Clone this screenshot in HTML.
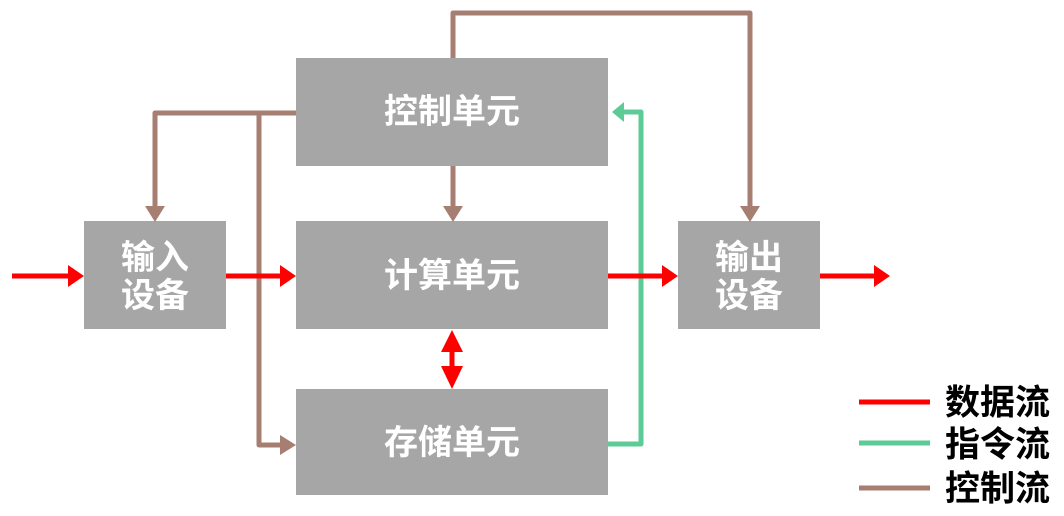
<!DOCTYPE html>
<html><head><meta charset="utf-8"><style>
html,body{margin:0;padding:0;background:#fff;}
svg{display:block;}
text{font-family:"Liberation Sans","Noto Sans CJK SC",sans-serif;font-weight:bold;}
</style></head><body>
<svg width="1064" height="516" viewBox="0 0 1064 516" xmlns="http://www.w3.org/2000/svg">
<g fill="#a6a6a6">
<rect x="296" y="58" width="312" height="108"/>
<rect x="296" y="221" width="312" height="108"/>
<rect x="296" y="389" width="312" height="106"/>
<rect x="84" y="221" width="142" height="108"/>
<rect x="678" y="221" width="142" height="108"/>
</g>
<g fill="#fff" font-size="34" text-anchor="middle" dominant-baseline="central">
<text x="452" y="112">控制单元</text>
<text x="452" y="276">计算单元</text>
<text x="452" y="443">存储单元</text>
<text x="155" y="258">输入</text>
<text x="155" y="296">设备</text>
<text x="749" y="258">输出</text>
<text x="749" y="296">设备</text>
</g>
<g stroke="#a67f72" stroke-width="5" fill="none" stroke-linejoin="round">
<polyline points="296,113 155,113 155,208"/>
<polyline points="259,113 259,445 282,445"/>
<polyline points="453,58 453,13 750,13 750,208"/>
<line x1="453" y1="166" x2="453" y2="208"/>
</g>
<g fill="#a67f72">
<polygon points="145,206 165,206 155,222"/>
<polygon points="443,206 463,206 453,222"/>
<polygon points="740,206 760,206 750,222"/>
<polygon points="280,435 280,455 296,445"/>
</g>
<polyline points="608,444 641,444 641,112 622,112" stroke="#5ccb96" stroke-width="5" fill="none" stroke-linejoin="round"/>
<polygon points="624,102 624,122 612,112" fill="#5ccb96"/>
<g stroke="#ff0000" stroke-width="5">
<line x1="12" y1="276" x2="70" y2="276"/>
<line x1="226" y1="276" x2="282" y2="276"/>
<line x1="608" y1="276" x2="664" y2="276"/>
<line x1="820" y1="276" x2="876" y2="276"/>
<line x1="452" y1="345" x2="452" y2="375"/>
</g>
<g fill="#ff0000">
<polygon points="68,265 68,287 84,276"/>
<polygon points="280,265 280,287 296,276"/>
<polygon points="662,265 662,287 678,276"/>
<polygon points="874,265 874,287 890,276"/>
<polygon points="452,330 441,352 463,352"/>
<polygon points="452,389 441,366 463,366"/>
</g>
<line x1="859" y1="402" x2="930" y2="402" stroke="#ff0000" stroke-width="5"/>
<line x1="859" y1="443" x2="930" y2="443" stroke="#5ccb96" stroke-width="5"/>
<line x1="859" y1="488" x2="930" y2="488" stroke="#a67f72" stroke-width="5"/>
<g fill="#000" font-size="35" dominant-baseline="central">
<text x="945" y="403">数据流</text>
<text x="945" y="445">指令流</text>
<text x="945" y="489">控制流</text>
</g>
</svg>
</body></html>
